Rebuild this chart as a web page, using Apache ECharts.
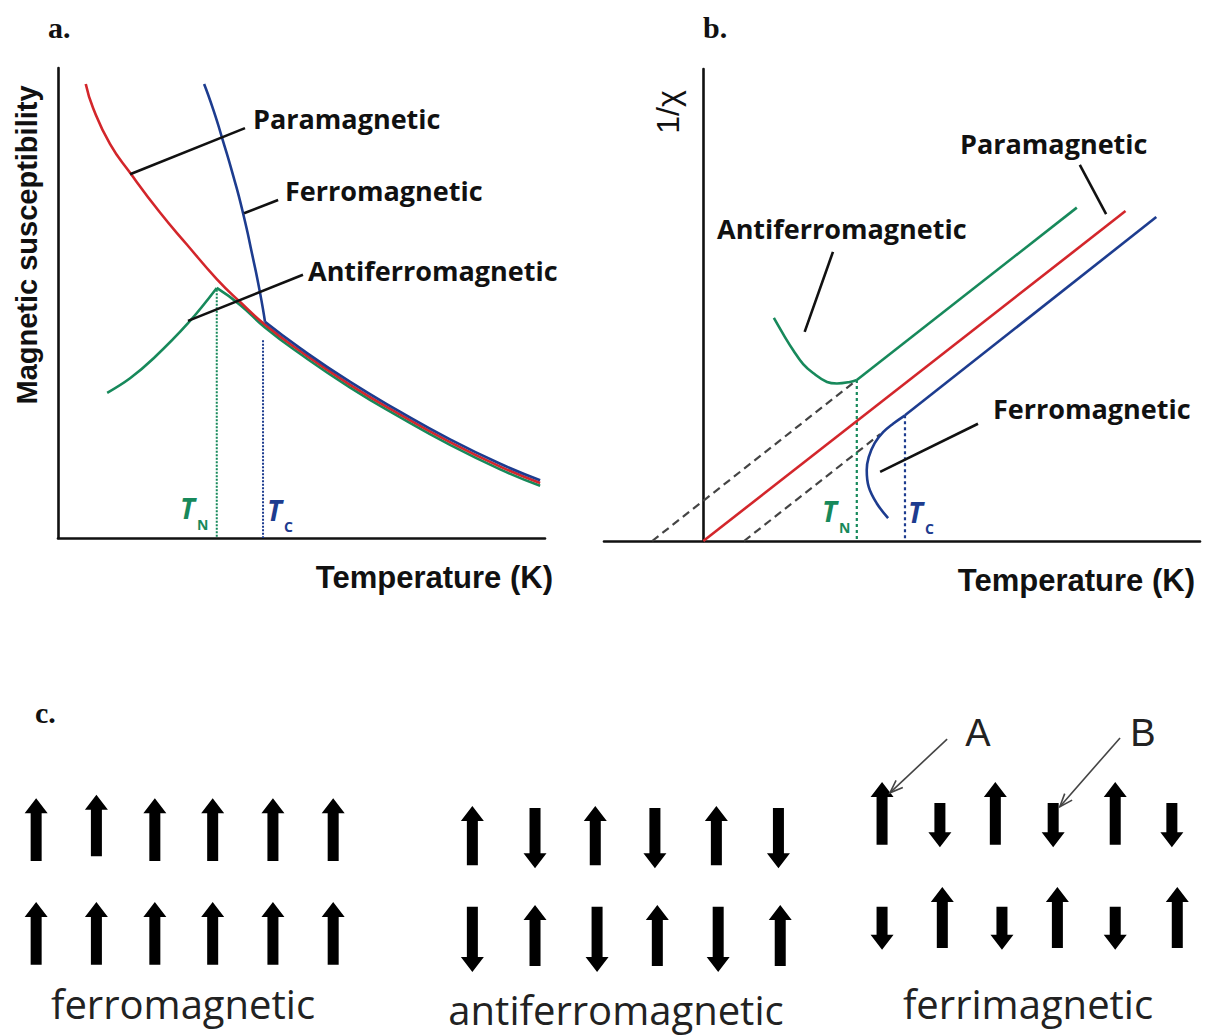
<!DOCTYPE html>
<html>
<head>
<meta charset="utf-8">
<title>Magnetic susceptibility vs temperature</title>
<script src="https://cdn.jsdelivr.net/npm/echarts/dist/echarts.min.js"></script>
<style>
  html, body { margin: 0; padding: 0; background: #fff; }
  #chart { width: 1205px; height: 1036px; }
</style>
</head>
<body>
<div id="chart"></div>
<script>
// ---------- Panel a: susceptibility chi(T), arbitrary units ----------
const paraA = [[0.57, 9.66], [0.72, 9.15], [1.07, 8.38], [1.48, 7.77], [2.09, 6.93], [2.65, 6.24],
  [3.26, 5.51], [3.74, 5.02], [4.25, 4.54], [4.97, 3.98], [6.00, 3.26], [7.02, 2.63],
  [8.05, 2.04], [9.08, 1.52], [9.90, 1.17]];
const ferroA_steep = [[3.00, 9.66], [3.19, 9.11], [3.37, 8.51], [3.60, 7.70], [3.80, 6.91],
  [3.99, 6.02], [4.15, 5.21], [4.25, 4.60]];
const ferroA_tail = [[4.25, 4.60], [4.97, 4.04], [6.00, 3.32], [7.02, 2.69], [8.05, 2.10],
  [9.08, 1.58], [9.90, 1.23]];
const antiA_rise = [[1.01, 3.09], [1.48, 3.40], [1.97, 3.83], [2.67, 4.57], [3.26, 5.32]];
const antiA_fall = [[3.26, 5.32], [3.74, 4.96], [4.25, 4.48], [4.97, 3.92], [6.00, 3.20],
  [7.02, 2.57], [8.05, 1.98], [9.08, 1.46], [9.90, 1.11]];
const neelA = [[3.26, 5.28], [3.26, 0]];
const curieA = [[4.21, 4.21], [4.21, 0]];
const leadersA = [
  [[1.48, 7.74], [3.84, 8.72]],   // Paramagnetic
  [[3.82, 6.91], [4.52, 7.19]],   // Ferromagnetic
  [[2.67, 4.62], [5.03, 5.60]]    // Antiferromagnetic
];

// ---------- Panel b: inverse susceptibility 1/chi(T) ----------
const paraB = [[0, 0], [8.50, 6.64]];
const antiB_low = [[1.42, 4.49], [1.64, 4.11], [1.81, 3.84], [2.01, 3.56], [2.21, 3.38],
  [2.49, 3.20], [2.69, 3.17], [2.95, 3.20], [3.09, 3.24]];
const antiB_high = [[3.09, 3.24], [7.52, 6.71]];
const ferroB_low = [[3.72, 0.46], [3.49, 0.76], [3.33, 1.09], [3.29, 1.43], [3.33, 1.69],
  [3.45, 1.97], [3.62, 2.19], [3.82, 2.36], [4.06, 2.53]];
const ferroB_high = [[4.06, 2.53], [9.12, 6.52]];
const extrapNeg = [[-1.03, 0], [3.09, 3.24]];
const extrapPos = [[0.82, 0], [3.56, 2.15]];
const neelB = [[3.09, 3.24], [3.09, 0]];
const curieB = [[4.06, 2.53], [4.06, 0]];
const leadersB = [
  [[7.58, 7.57], [8.11, 6.58]],   // Paramagnetic
  [[2.61, 5.82], [2.04, 4.21]],   // Antiferromagnetic
  [[3.56, 1.39], [5.53, 2.36]]    // Ferromagnetic
];

// ---------- Panel c: spin arrangements, [site, tail, tip] ----------
const ferroRow1 = [[0, 2.90, 3.94], [1, 2.98, 4.00], [1.97, 2.90, 3.94], [2.93, 2.90, 3.94], [3.93, 2.90, 3.94], [4.93, 2.90, 3.94]];
const ferroRow2 = [[0, 1.18, 2.22], [1, 1.18, 2.22], [1.97, 1.18, 2.22], [2.93, 1.18, 2.22], [3.93, 1.18, 2.22], [4.93, 1.18, 2.22]];
const antiRow1 = [[7.24, 2.83, 3.81], [8.28, 3.78, 2.78], [9.28, 2.83, 3.81], [10.27, 3.78, 2.78], [11.29, 2.83, 3.81], [12.32, 3.78, 2.78]];
const antiRow2 = [[7.24, 2.14, 1.06], [8.28, 1.16, 2.17], [9.31, 2.14, 1.06], [10.31, 1.16, 2.17], [11.32, 2.14, 1.06], [12.35, 1.16, 2.17]];
const ferriRow1 = [[14.04, 3.17, 4.21], [15.00, 3.86, 3.13], [15.92, 3.17, 4.21], [16.88, 3.86, 3.13], [17.91, 3.17, 4.21], [18.85, 3.86, 3.13]];
const ferriRow2 = [[14.04, 2.14, 1.43], [15.04, 1.46, 2.47], [16.03, 2.14, 1.43], [16.95, 1.46, 2.47], [17.91, 2.14, 1.43], [18.94, 1.46, 2.47]];
const sublatticePointers = [[15.12, 4.92, 14.17, 4.03], [17.99, 4.94, 16.99, 3.80]];

const RED = '#d3262b', BLUE = '#1d3c8f', GREEN = '#17895b', INK = '#111';
const LABEL_FONT = 'Open Sans';
const AXIS_FONT = 'Liberation Sans';
const SERIF = 'Liberation Serif';

function curve(data, color, ax, opts) {
  return Object.assign({
    type: 'line', data: data, xAxisIndex: ax, yAxisIndex: ax,
    showSymbol: false, symbol: 'none', silent: true,
    lineStyle: { color: color, width: 2.6 }
  }, opts || {});
}

function leaderLines(list, ax) {
  return {
    type: 'lines', coordinateSystem: 'cartesian2d', xAxisIndex: ax, yAxisIndex: ax,
    silent: true, data: list.map(c => ({ coords: c })),
    lineStyle: { color: INK, width: 2.6, opacity: 1 }, z: 4
  };
}

function arrowGlyph(params, api) {
  const x = api.value(0);
  const tail = api.coord([x, api.value(1)]);
  const tip = api.coord([x, api.value(2)]);
  const up = tip[1] < tail[1] ? 1 : -1;
  const cx = tail[0], half = 5.5, head = 11.5, headLen = 15;
  const base = tip[1] + up * headLen;
  return {
    type: 'polygon',
    shape: { points: [[cx - half, tail[1]], [cx - half, base], [cx - head, base], [cx, tip[1]],
      [cx + head, base], [cx + half, base], [cx + half, tail[1]]] },
    style: { fill: '#000' }
  };
}

function pointerGlyph(params, api) {
  const a = api.coord([api.value(0), api.value(1)]);
  const b = api.coord([api.value(2), api.value(3)]);
  const ang = Math.atan2(b[1] - a[1], b[0] - a[0]);
  const L = 14, spread = 0.36;
  const h1 = [b[0] - L * Math.cos(ang - spread), b[1] - L * Math.sin(ang - spread)];
  const h2 = [b[0] - L * Math.cos(ang + spread), b[1] - L * Math.sin(ang + spread)];
  return {
    type: 'group', children: [
      { type: 'line', shape: { x1: a[0], y1: a[1], x2: b[0], y2: b[1] }, style: { stroke: '#444', lineWidth: 1.6 } },
      { type: 'polyline', shape: { points: [h1, b, h2] }, style: { stroke: '#444', lineWidth: 1.6, fill: null } }
    ]
  };
}

const hiddenAxis = { show: false };
const axisBase = {
  type: 'value', axisTick: { show: false }, axisLabel: { show: false }, splitLine: { show: false },
  axisLine: { show: true, lineStyle: { color: INK, width: 2.6 } }
};

// text helper: o = { size, weight, family, italic, align, fill, rotation }
function txt(text, x, y, o) {
  return {
    type: 'text', x: x, y: y, silent: true, rotation: o.rotation || 0,
    style: {
      text: text, fontSize: o.size, fontWeight: o.weight || 'normal', fontFamily: o.family,
      fontStyle: o.italic ? 'italic' : 'normal', fill: o.fill || INK,
      align: o.align || 'left', verticalAlign: 'middle'
    }
  };
}
function tempSymbol(sub, x, y, color) {
  return [
    txt('T', x, y, { size: 28, weight: 'bold', family: LABEL_FONT, italic: true, fill: color }),
    txt(sub, x + 17, y + 16, { size: 14, weight: 'bold', family: LABEL_FONT, fill: color })
  ];
}

const chart = echarts.init(document.getElementById('chart'), null, { renderer: 'svg' });

const labelStyle = { size: 27, weight: 'bold', family: LABEL_FONT };
const panelStyle = { size: 30, weight: 'bold', family: SERIF };
const spinStyle = { size: 40, family: LABEL_FONT, align: 'center', fill: '#222' };

chart.setOption({
  animation: false,
  backgroundColor: '#fff',
  grid: [
    { left: 58, top: 68, width: 487, height: 470 },
    { left: 604, top: 69, width: 596, height: 472 },
    { left: 0, top: 680, width: 1205, height: 356 }
  ],
  xAxis: [
    Object.assign({}, axisBase, { gridIndex: 0, min: 0, max: 10 }),
    Object.assign({}, axisBase, { gridIndex: 1, min: -2, max: 10 }),
    Object.assign({}, hiddenAxis, { type: 'value', gridIndex: 2, min: -0.6, max: 19.4 })
  ],
  yAxis: [
    Object.assign({}, axisBase, { gridIndex: 0, min: 0, max: 10 }),
    Object.assign({}, axisBase, { gridIndex: 1, min: 0, max: 9.5 }),
    Object.assign({}, hiddenAxis, { type: 'value', gridIndex: 2, min: 0, max: 5.9 })
  ],
  series: [
    // panel a
    curve(neelA, GREEN, 0, { lineStyle: { color: GREEN, width: 2, type: [2, 1.5] }, z: 1 }),
    curve(curieA, BLUE, 0, { lineStyle: { color: BLUE, width: 2, type: [2, 1.5] }, z: 1 }),
    curve(antiA_rise, GREEN, 0, { smooth: 0.4 }),
    curve(antiA_fall, GREEN, 0, { smooth: 0.5 }),
    curve(paraA, RED, 0, { smooth: 0.5 }),
    curve(ferroA_steep, BLUE, 0, { smooth: 0.6 }),
    curve(ferroA_tail, BLUE, 0, { smooth: 0.5 }),
    leaderLines(leadersA, 0),
    // panel b
    curve(extrapNeg, '#444', 1, { lineStyle: { color: '#444', width: 2.2, type: [8, 5] }, z: 1 }),
    curve(extrapPos, '#444', 1, { lineStyle: { color: '#444', width: 2.2, type: [8, 5] }, z: 1 }),
    curve(neelB, GREEN, 1, { lineStyle: { color: GREEN, width: 2.2, type: [3, 3] }, z: 1 }),
    curve(curieB, BLUE, 1, { lineStyle: { color: BLUE, width: 2.2, type: [3, 3] }, z: 1 }),
    curve(paraB, RED, 1),
    curve(antiB_low, GREEN, 1, { smooth: 0.4 }),
    curve(antiB_high, GREEN, 1),
    curve(ferroB_low, BLUE, 1, { smooth: 0.4 }),
    curve(ferroB_high, BLUE, 1),
    leaderLines(leadersB, 1),
    // panel c
    {
      type: 'custom', coordinateSystem: 'cartesian2d', xAxisIndex: 2, yAxisIndex: 2, silent: true,
      renderItem: arrowGlyph, encode: { x: 0, y: [1, 2] },
      data: [].concat(ferroRow1, ferroRow2, antiRow1, antiRow2, ferriRow1, ferriRow2)
    },
    {
      type: 'custom', coordinateSystem: 'cartesian2d', xAxisIndex: 2, yAxisIndex: 2, silent: true,
      renderItem: pointerGlyph, encode: { x: [0, 2], y: [1, 3] },
      data: sublatticePointers
    }
  ],
  graphic: [
    txt('a.', 48, 27, panelStyle),
    txt('b.', 703, 27, panelStyle),
    txt('c.', 35, 712, panelStyle),
    txt('Magnetic susceptibility', 27, 245, { size: 29, weight: 'bold', family: AXIS_FONT, align: 'center', rotation: Math.PI / 2 }),
    txt('Temperature (K)', 553, 577, { size: 31, weight: 'bold', family: AXIS_FONT, align: 'right' }),
    txt('Temperature (K)', 1195, 580, { size: 31, weight: 'bold', family: AXIS_FONT, align: 'right' }),
    txt('1/χ', 668, 112, { size: 32, family: AXIS_FONT, align: 'center', rotation: Math.PI / 2 }),
    txt('Paramagnetic', 253, 118, labelStyle),
    txt('Ferromagnetic', 285, 190, labelStyle),
    txt('Antiferromagnetic', 308, 270, labelStyle),
    txt('Paramagnetic', 960, 143, labelStyle),
    txt('Antiferromagnetic', 717, 228, labelStyle),
    txt('Ferromagnetic', 993, 408, labelStyle),
    txt('ferromagnetic', 183, 1003, spinStyle),
    txt('antiferromagnetic', 616, 1009, spinStyle),
    txt('ferrimagnetic', 1028, 1003, spinStyle),
    txt('A', 978, 733, { size: 38, family: AXIS_FONT, align: 'center', fill: '#222' }),
    txt('B', 1143, 733, { size: 38, family: AXIS_FONT, align: 'center', fill: '#222' })
  ].concat(
    tempSymbol('N', 180, 508, GREEN),
    tempSymbol('C', 267, 510, BLUE),
    tempSymbol('N', 822, 511, GREEN),
    tempSymbol('C', 908, 512, BLUE)
  )
});
</script>
</body>
</html>
